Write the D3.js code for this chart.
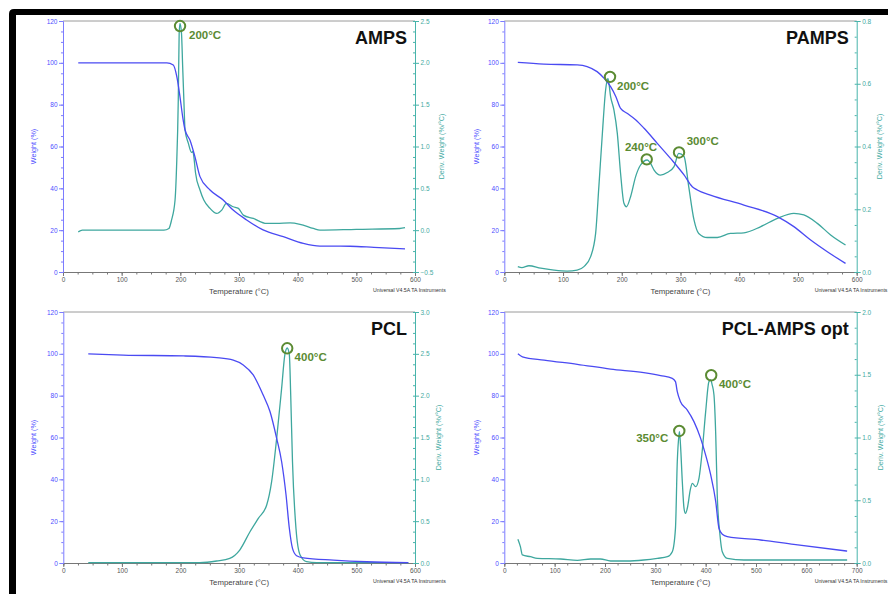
<!DOCTYPE html>
<html><head><meta charset="utf-8">
<script src="https://cdn.jsdelivr.net/npm/d3@7"></script>
<style>body{margin:0;background:#fff}svg{display:block}</style>
</head><body><svg id="c" width="888" height="594"></svg>
<script>
// ---------- DATA (temperature °C, weight %, deriv. weight %/°C) ----------
const ampsWeight = [[26,100],[100,100],[177,100],[188,99],[194,93.4],[199.4,83.8],[204,74.2],[208,68],[216.5,63],[225,55],[233.5,45.6],[250.6,39.2],[273,34.4],[290,29.6],[313,24.9],[341,20.1],[375.5,16.9],[409.6,13.7],[438,12.4],[489,12.3],[530,11.8],[583,11.1]];
const ampsDeriv = [[26,-0.02],[33,0],[100,0],[172,0],[180.5,0.02],[185,0.12],[191,0.36],[193.6,0.76],[196.5,1.56],[198,2.35],[199.4,2.47],[202,2.35],[204,1.95],[206,1.56],[208,1.2],[213.6,1.04],[219,0.93],[221.5,0.94],[223,0.88],[226,0.68],[233.5,0.48],[240,0.36],[250.6,0.26],[262,0.2],[270.6,0.24],[278.5,0.32],[290,0.28],[299,0.26],[307.4,0.18],[324.4,0.14],[347,0.08],[364,0.08],[387,0.086],[404,0.07],[426.7,0.02],[438,0.0],[500,0.01],[574,0.02],[583,0.03]];
const pampsWeight = [[23,100.2],[67.5,99.4],[124,99],[141,98.2],[158,95.8],[170,92.6],[181,88.6],[190,83.8],[198,78.2],[209,75.9],[224,72.7],[238,68.7],[260.5,61.5],[283,54.3],[306,46.4],[320,40.8],[328.6,39.2],[351,36.8],[408,32],[465,26.5],[493,21.7],[521.6,15.3],[550,9.7],[581,4.1]];
const pampsDeriv = [[23,0.017],[30,0.014],[42,0.02],[62,0.012],[84.6,0.006],[107,0.003],[124,0.006],[135.6,0.017],[147,0.049],[155.5,0.123],[161,0.272],[167,0.442],[172.5,0.58],[176.5,0.617],[181,0.559],[186.7,0.516],[192.4,0.442],[198,0.314],[203.7,0.219],[208,0.208],[215,0.24],[223.6,0.304],[232,0.341],[243.5,0.357],[249,0.346],[255,0.325],[266,0.309],[277.5,0.317],[289,0.336],[297,0.378],[306,0.368],[314,0.272],[323,0.166],[331,0.123],[345.6,0.11],[362.7,0.11],[385,0.123],[408,0.125],[436,0.144],[465,0.171],[493,0.187],[510,0.182],[533,0.155],[555.6,0.118],[581,0.086]];
const pclWeight = [[42.6,100],[102,99.4],[205,99],[261.6,98.2],[290,97],[307,94.7],[324,89.9],[341,80.3],[352.6,72.4],[364,59.6],[372.5,48.4],[380,32.5],[385.6,16.6],[391,7],[398,3.5],[409.5,2.5],[460.6,1.4],[517.5,0.6],[588.6,0.2]];
const pclDeriv = [[42.6,0.004],[150,0.004],[233,0.004],[261.6,0.024],[284,0.056],[301,0.155],[318.5,0.374],[332.7,0.534],[347,0.693],[355.4,0.972],[364,1.49],[372.5,2.09],[378,2.49],[382,2.57],[385.6,2.49],[388,2.0],[391,1.21],[397,0.41],[404,0.096],[415,0.016],[432,0.004],[500,0.004],[588.6,0.004]];
const blendWeight = [[27,100],[36,98.6],[79,97],[145,95],[211,92.7],[277,91],[310.5,89.6],[333.7,88.3],[340,86.7],[343.6,81.9],[350,77.1],[363.5,73.1],[376.7,67.6],[390,59.6],[400,51.6],[410,42.1],[420,29.3],[426.4,16.6],[433,13.7],[443,12.6],[509,11],[575,8.9],[681,5.7]];
const blendDeriv = [[27,0.189],[32,0.13],[36,0.064],[52,0.05],[65.5,0.037],[112,0.032],[145,0.021],[171.5,0.032],[191,0.032],[211,0.016],[244,0.016],[277,0.024],[304,0.037],[324,0.05],[333.7,0.09],[340,0.276],[343.6,0.807],[347,1.02],[348,1.047],[350,0.94],[353.6,0.648],[357,0.436],[360,0.396],[363.5,0.436],[370,0.595],[373.5,0.635],[380,0.608],[386.7,0.675],[393,0.887],[400,1.206],[406.5,1.445],[410,1.458],[413,1.418],[416.5,1.339],[420,1.02],[423,0.542],[428.4,0.223],[433,0.09],[443,0.037],[476,0.024],[542,0.024],[681,0.024]];

const titles = ["AMPS","PAMPS","PCL","PCL-AMPS opt"];
const tempMax = [600,600,600,700];
const derivDomains = [[-0.5,2.5],[0,0.8],[0,3],[0,2]];
const weightTicks = [0,20,40,60,80,100,120];
const derivTicks = [[-0.5,0,0.5,1,1.5,2,2.5],[0,0.2,0.4,0.6,0.8],[0,0.5,1,1.5,2,2.5,3],[0,0.5,1,1.5,2]];
const derivFormats = [".1f",".1f",".1f",".1f"];
const ampsPeaks = [{T:199.5,D:2.44,label:"200°C"}];
const pampsPeaks = [{T:180,D:0.622,label:"200°C"},{T:242.5,D:0.359,label:"240°C"},{T:297.5,D:0.381,label:"300°C"}];
const pclPeaks = [{T:382,D:2.566,label:"400°C"}];
const blendPeaks = [{T:411,D:1.496,label:"400°C"},{T:347.6,D:1.052,label:"350°C"}];

// ---------- LAYOUT ----------
const panels = [
  {x0:63,x1:415,y0:21,y1:272,weight:ampsWeight,deriv:ampsDeriv,peaks:ampsPeaks,
   lab:[{dx:9,dy:13,a:"start"}],wTitleX:33,dTitleX:441},
  {x0:504.3,x1:856.7,y0:21,y1:272,weight:pampsWeight,deriv:pampsDeriv,peaks:pampsPeaks,
   lab:[{dx:7,dy:13.5,a:"start"},{dx:-5.7,dy:-8.6,a:"middle"},{dx:7.7,dy:-7.6,a:"start"}],wTitleX:476,dTitleX:879},
  {x0:63.3,x1:415,y0:312,y1:563,weight:pclWeight,deriv:pclDeriv,peaks:pclPeaks,
   lab:[{dx:7.4,dy:13,a:"start"}],wTitleX:33,dTitleX:438},
  {x0:504.3,x1:856.7,y0:312,y1:563,weight:blendWeight,deriv:blendDeriv,peaks:blendPeaks,
   lab:[{dx:7.7,dy:13,a:"start"},{dx:-11,dy:11.3,a:"end"}],wTitleX:476,dTitleX:880}
];

const BLUE="#4a4af2", BLUE_AX="#7c7cff", BLUE_TXT="#4d4dff";
const TEAL="#3ea79e", TEAL_AX="#48b4ab", TEAL_TXT="#3faaa2";
const GREEN="#5b8b33";
const FONT="'Liberation Sans', Arial, sans-serif";

const svg = d3.select("#c");

panels.forEach((p,i)=>{
  const g = svg.append("g");
  const x = d3.scaleLinear().domain([0,tempMax[i]]).range([p.x0,p.x1]);
  const yW = d3.scaleLinear().domain([0,120]).range([p.y1,p.y0]);
  const yD = d3.scaleLinear().domain(derivDomains[i]).range([p.y1,p.y0]);

  // top frame
  g.append("line").attr("x1",p.x0).attr("x2",p.x1).attr("y1",p.y0).attr("y2",p.y0)
    .attr("stroke","#9a9a9a").attr("stroke-width",1);

  // x axis
  const xMinor = d3.range(0,tempMax[i]+1,25);
  const xa = g.append("g").attr("transform",`translate(0,${p.y1})`)
    .call(d3.axisBottom(x).tickValues(xMinor).tickSize(2.5).tickFormat(""));
  xa.select(".domain").attr("stroke","#777");
  xa.selectAll(".tick line").attr("stroke","#777");
  const xb = g.append("g").attr("transform",`translate(0,${p.y1})`)
    .call(d3.axisBottom(x).tickValues(d3.range(0,tempMax[i]+1,100)).tickSize(4).tickPadding(1));
  xb.select(".domain").remove();
  xb.selectAll(".tick line").attr("stroke","#777");
  xb.selectAll("text").attr("font-family",FONT).attr("font-size",6.5).attr("fill","#555");

  // left axis (weight)
  const la = g.append("g").attr("transform",`translate(${p.x0},0)`)
    .call(d3.axisLeft(yW).tickValues(d3.range(0,121,5)).tickSize(2).tickFormat(""));
  la.select(".domain").attr("stroke",BLUE_AX);
  la.selectAll(".tick line").attr("stroke",BLUE_AX);
  const lb = g.append("g").attr("transform",`translate(${p.x0},0)`)
    .call(d3.axisLeft(yW).tickValues(weightTicks).tickSize(4).tickPadding(1.5));
  lb.select(".domain").remove();
  lb.selectAll(".tick line").attr("stroke",BLUE_AX);
  lb.selectAll("text").attr("font-family",FONT).attr("font-size",6.5).attr("fill",BLUE_TXT);

  // right axis (deriv)
  const dt = derivTicks[i], step=(dt[1]-dt[0])/4;
  const dMinor = d3.range(0,(dt.length-1)*4+1).map(k=>dt[0]+k*step);
  const ra = g.append("g").attr("transform",`translate(${p.x1},0)`)
    .call(d3.axisRight(yD).tickValues(dMinor).tickSize(-2).tickFormat(""));
  ra.select(".domain").attr("stroke",TEAL_AX);
  ra.selectAll(".tick line").attr("stroke",TEAL_AX);
  const rb = g.append("g").attr("transform",`translate(${p.x1},0)`)
    .call(d3.axisRight(yD).tickValues(dt).tickSize(4).tickPadding(1.5).tickFormat(d3.format(derivFormats[i])));
  rb.select(".domain").remove();
  rb.selectAll(".tick line").attr("stroke",TEAL_AX);
  rb.selectAll("text").attr("font-family",FONT).attr("font-size",6.5).attr("fill",TEAL_TXT);

  // axis titles
  g.append("text").attr("x",(p.x0+p.x1)/2).attr("y",p.y1+22).attr("text-anchor","middle")
    .attr("font-family",FONT).attr("font-size",7.8).attr("fill","#444").text("Temperature (°C)");
  g.append("text").attr("transform",`translate(${p.wTitleX},${(p.y0+p.y1)/2}) rotate(-90)`)
    .attr("text-anchor","middle").attr("dy","0.35em").attr("font-family",FONT).attr("font-size",7.2)
    .attr("fill",BLUE_TXT).text("Weight (%)");
  g.append("text").attr("transform",`translate(${p.dTitleX},${(p.y0+p.y1)/2}) rotate(-90)`)
    .attr("text-anchor","middle").attr("dy","0.35em").attr("font-family",FONT).attr("font-size",7.2)
    .attr("fill",TEAL_TXT).text("Deriv. Weight (%/°C)");
  g.append("text").attr("x",p.x1-42).attr("y",p.y1+20).attr("font-family",FONT).attr("font-size",5.2)
    .attr("fill","#333").text("Universal V4.5A TA Instruments");

  // curves
  const lw = d3.line().x(d=>x(d[0])).y(d=>yW(d[1])).curve(d3.curveMonotoneX);
  const ld = d3.line().x(d=>x(d[0])).y(d=>yD(d[1])).curve(d3.curveMonotoneX);
  g.append("path").attr("d",ld(p.deriv)).attr("fill","none").attr("stroke",TEAL).attr("stroke-width",1.3);
  g.append("path").attr("d",lw(p.weight)).attr("fill","none").attr("stroke",BLUE).attr("stroke-width",1.3);

  // title
  g.append("text").attr("x",p.x1-8).attr("y",p.y0+23).attr("text-anchor","end")
    .attr("font-family",FONT).attr("font-weight","bold").attr("font-size",18).attr("fill","#111")
    .text(titles[i]);

  // peak annotations
  p.peaks.forEach((pk,j)=>{
    const cx=x(pk.T), cy=yD(pk.D), L=p.lab[j];
    g.append("circle").attr("cx",cx).attr("cy",cy).attr("r",5.2).attr("fill","none")
      .attr("stroke",GREEN).attr("stroke-width",2);
    g.append("text").attr("x",cx+L.dx).attr("y",cy+L.dy).attr("text-anchor",L.a)
      .attr("font-family",FONT).attr("font-weight","bold").attr("font-size",11.5).attr("fill",GREEN)
      .text(pk.label);
  });
});

// black frame (top and left)
svg.append("path").attr("d","M9,594 L9,14 Q9,9 14,9 L888,9 L888,15 L16,15 L16,594 Z").attr("fill","#000");
</script></body></html>
